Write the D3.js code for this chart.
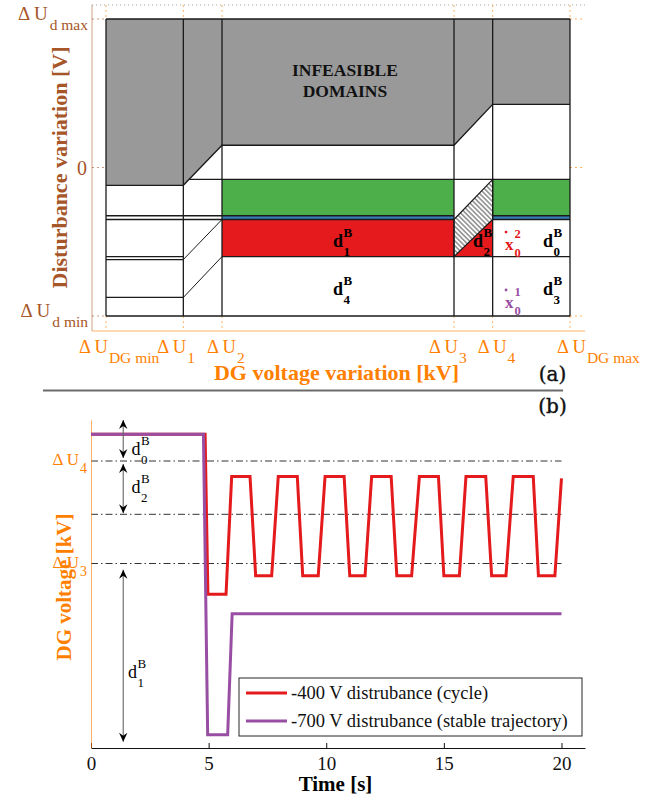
<!DOCTYPE html>
<html>
<head>
<meta charset="utf-8">
<script src="https://cdn.jsdelivr.net/npm/d3@7"></script>
<style>
body { margin: 0; background: #fff; }
svg text { font-family: "Liberation Serif", "Times New Roman", serif; }
</style>
</head>
<body>
<svg id="fig" width="667" height="800"></svg>
<script>
// ---- (a) partition of the state space (DG voltage in grid units, disturbance in V) ----
const dgEdges = [0, 2, 3, 9, 10, 12];
const dgEdgeSubs = ["DG min", "1", "2", "3", "4", "DG max"];
const distTicks = [1000, 0, -1000];
const distTickSubs = ["d max", null, "d min"];

const infeasibleEdge = [[0, -120], [2, -120], [3, 150], [9, 150], [10, 425], [12, 425]];
const bandCols = [[3, 9], [10, 12]];
const greenRange = [-325, -80];
const blueRange = [-350, -325];
const redRange = [-600, -350];
const redTriangle = [[9, -600], [10, -350], [10, -600]];
const hatchPoly = [[9, -350], [10, -80], [10, -350], [9, -600]];
const hLines = [
    [0, 2, -325], [0, 2, -350], [0, 2, -600], [0, 2, -620], [0, 2, -875],
    [2, 3, -325], [2, 3, -350],
    [2.15, 12, -80],
    [3, 9, -325], [3, 9, -350], [10, 12, -325], [10, 12, -350],
    [3, 12, -600]
];
const slantLines = [[2, -620, 3, -350], [2, -875, 3, -600]];
const regionLabels = [
    { sub: "1", x: 5.87, v: -535 }, { sub: "4", x: 5.87, v: -859 },
    { sub: "2", x: 9.49, v: -535 },
    { sub: "0", x: 11.30, v: -535 }, { sub: "3", x: 11.30, v: -859 }
];
const initStates = [
    { sup: "2", x: 10.32, v: -556, color: "#e41a1c" },
    { sup: "1", x: 10.32, v: -946, color: "#984ea3" }
];

// ---- (b) time response ----
const timeTicks = [0, 5, 10, 15, 20];
const cycleT = [0, 4.85, 4.97, 5.74, 5.98, 6.76, 7.00, 7.68, 7.96, 8.77, 9.00, 9.66,
    9.95, 10.76, 11.00, 11.65, 11.93, 12.76, 13.00, 13.63, 13.96, 14.77, 15.00, 15.66,
    15.94, 16.78, 17.03, 17.64, 17.95, 18.80, 19.02, 19.72, 20.00];
const cycleV = [10.26, 10.26, 8.70, 8.70, 9.85, 9.85, 8.88, 8.88, 9.85, 9.85, 8.88, 8.88,
    9.85, 9.85, 8.88, 8.88, 9.85, 9.85, 8.88, 8.88, 9.85, 9.85, 8.88, 8.88,
    9.85, 9.85, 8.88, 8.88, 9.85, 9.85, 8.88, 8.88, 9.83];
const stableT = [0, 4.78, 4.96, 5.81, 6.00, 20.00];
const stableV = [10.26, 10.26, 7.33, 7.33, 8.51, 8.51];
const levelLines = [10, 9.48, 9];
const levelTicks = [10, 9];
const levelSubs = ["4", "3"];
const bandArrows = [
    { sub: "0", from: 10.4, to: 10.03, labT: 1.72, labV: 10.06 },
    { sub: "2", from: 9.97, to: 9.49, labT: 1.72, labV: 9.69 },
    { sub: "1", from: 8.94, to: 7.26, labT: 1.57, labV: 7.88 }
];
const arrowT = 1.37;
const legendNames = ["-400 V distrubance (cycle)", "-700 V distrubance (stable trajectory)"];

const C = {
    gray: "#999999", green: "#4daf4a", blue: "#377eb8", red: "#e41a1c",
    purple: "#984ea3", orange: "#ff7f00", brown: "#a65628", ink: "#1a1a1a"
};

const svg = d3.select("#fig");
const defs = svg.append("defs");

// text with optional stacked sub/superscript
function tex(g, o) {
    const grp = g.append("g").attr("fill", o.color || "#000").attr("font-weight", o.weight || "normal");
    const b = grp.append("text").attr("y", o.y).attr("font-size", o.size).text(o.base);
    const bw = b.node().getComputedTextLength();
    const parts = [];
    let sw = 0;
    [["sup", -(o.supUp || 0)], ["sub", o.subDown || 0]].forEach(([k, dy]) => {
        if (!o[k]) return;
        const t = grp.append("text").attr("y", o.y + dy).attr("font-size", o.small).text(o[k]);
        sw = Math.max(sw, t.node().getComputedTextLength());
        parts.push(t);
    });
    const gap = o.gap || 0;
    const total = bw + (parts.length ? gap + sw : 0);
    const x0 = o.anchor === "end" ? o.x - total : o.anchor === "middle" ? o.x - total / 2 : o.x;
    b.attr("x", x0);
    parts.forEach(p => p.attr("x", x0 + bw + gap));
    return grp;
}

// ================= panel (a) =================
const xA = d3.scaleLinear().domain([0, 12]).range([106, 570]);
const yA = d3.scaleLinear().domain([-1000, 1000]).range([316, 19]);
const gA = svg.append("g");
const P = ([x, v]) => [xA(x), yA(v)];
const poly = pts => "M" + pts.map(p => P(p).join(",")).join("L") + "Z";

defs.append("pattern")
    .attr("id", "hatch")
    .attr("patternUnits", "userSpaceOnUse")
    .attr("width", 3.4).attr("height", 3.4)
    .attr("patternTransform", "rotate(45)")
    .call(p => {
        p.append("rect").attr("width", 3.4).attr("height", 3.4).attr("fill", "#fff");
        p.append("line").attr("x1", 0).attr("x2", 3.4).attr("y1", 1.7).attr("y2", 1.7)
            .attr("stroke", "#222").attr("stroke-width", 0.8);
    });

// axis frame (offset MATLAB-like axes)
const [ax0, ax1] = xA.range();
const [ay1, ay0] = yA.range();
const axL = ax0 - 14, axR = ax1 + 15, axT = ay0 - 14, axB = ay1 + 15;
gA.append("line").attr("x1", axL).attr("x2", axR).attr("y1", axT).attr("y2", axT)
    .attr("stroke", "#aaa").attr("stroke-dasharray", "1.2,2.8");
gA.append("line").attr("x1", axL).attr("x2", axL).attr("y1", axT).attr("y2", axB)
    .attr("stroke", C.brown).attr("stroke-opacity", 0.55);
gA.append("line").attr("x1", axL).attr("x2", axR).attr("y1", axB).attr("y2", axB)
    .attr("stroke", C.orange).attr("stroke-opacity", 0.6);
dgEdges.forEach(d => {
    [[axT, ay0], [ay1, axB]].forEach(([a, b]) => gA.append("line")
        .attr("x1", xA(d)).attr("x2", xA(d)).attr("y1", a).attr("y2", b)
        .attr("stroke", C.orange).attr("stroke-opacity", 0.6).attr("stroke-dasharray", "2,3"));
});
distTicks.forEach(v => {
    gA.append("line").attr("x1", axL).attr("x2", ax0).attr("y1", yA(v)).attr("y2", yA(v))
        .attr("stroke", C.brown).attr("stroke-opacity", 0.6).attr("stroke-dasharray", "2,3");
    gA.append("line").attr("x1", ax1).attr("x2", axR).attr("y1", yA(v)).attr("y2", yA(v))
        .attr("stroke", C.orange).attr("stroke-opacity", 0.6).attr("stroke-dasharray", "2,3");
});

// filled domains
gA.append("path").attr("d", poly([[0, 1000], ...infeasibleEdge, [12, 1000]])).attr("fill", C.gray);
bandCols.forEach(([a, b]) => {
    [[greenRange, C.green], [blueRange, C.blue]].forEach(([r, c]) => gA.append("rect")
        .attr("x", xA(a)).attr("width", xA(b) - xA(a))
        .attr("y", yA(r[1])).attr("height", yA(r[0]) - yA(r[1]))
        .attr("fill", c));
});
gA.append("rect")
    .attr("x", xA(bandCols[0][0])).attr("width", xA(bandCols[0][1]) - xA(bandCols[0][0]))
    .attr("y", yA(redRange[1])).attr("height", yA(redRange[0]) - yA(redRange[1]))
    .attr("fill", C.red);
gA.append("path").attr("d", poly(redTriangle)).attr("fill", C.red);
gA.append("path").attr("d", poly(hatchPoly)).attr("fill", "url(#hatch)")
    .attr("stroke", C.ink).attr("stroke-width", 1.2);

// boundaries
const ink = sel => sel.attr("stroke", C.ink).attr("stroke-width", 1.3).attr("fill", "none");
gA.append("path").attr("d", "M" + infeasibleEdge.map(p => P(p).join(",")).join("L")).call(ink);
hLines.forEach(([a, b, v]) => gA.append("line")
    .attr("x1", xA(a)).attr("x2", xA(b)).attr("y1", yA(v)).attr("y2", yA(v)).call(ink));
slantLines.forEach(([a, v0, b, v1]) => gA.append("line")
    .attr("x1", xA(a)).attr("x2", xA(b)).attr("y1", yA(v0)).attr("y2", yA(v1))
    .attr("stroke", C.ink).attr("stroke-width", 1));
dgEdges.forEach(d => gA.append("line")
    .attr("x1", xA(d)).attr("x2", xA(d)).attr("y1", yA(-1000)).attr("y2", yA(1000)).call(ink));
[-1000, 1000].forEach(v => gA.append("line")
    .attr("x1", xA(0)).attr("x2", xA(12)).attr("y1", yA(v)).attr("y2", yA(v)).call(ink));

// labels inside
const infX = xA(6.18);
gA.append("text").attr("x", infX).attr("y", yA(618)).attr("text-anchor", "middle")
    .attr("font-size", 17.5).attr("font-weight", "bold").attr("fill", "#111").text("INFEASIBLE");
gA.append("text").attr("x", infX).attr("y", yA(618) + 21).attr("text-anchor", "middle")
    .attr("font-size", 17.5).attr("font-weight", "bold").attr("fill", "#111").text("DOMAINS");

regionLabels.forEach(r => tex(gA, {
    x: xA(r.x), y: yA(r.v), base: "d", sup: "B", sub: r.sub,
    size: 18, small: 13, supUp: 10, subDown: 9, weight: "bold", color: "#000", gap: 0.5
}));
initStates.forEach(s => {
    const x = xA(s.x), y = yA(s.v);
    tex(gA, { x, y, base: "x", sup: s.sup, sub: "0", size: 17, small: 12.5,
        supUp: 12, subDown: 7, weight: "bold", color: s.color, gap: 1 });
    gA.append("circle").attr("cx", x + 1).attr("cy", y - 18).attr("r", 1.4).attr("fill", s.color);
});

// tick labels
const xLabelNudge = [-27, -26, -15, -25, -15, -13];
dgEdges.forEach((d, i) => tex(gA, {
    x: xA(d) + xLabelNudge[i], y: 353, base: "Δ U", sub: dgEdgeSubs[i],
    size: 18.5, small: 15.5, subDown: 10, color: C.orange, gap: 1
}));
distTicks.forEach((v, i) => {
    if (distTickSubs[i]) {
        tex(gA, { x: 88, y: yA(v) + 1, base: "Δ U", sub: distTickSubs[i], anchor: "end",
            size: 19, small: 15.5, subDown: 10, color: C.brown, gap: 2 });
    } else {
        gA.append("text").attr("x", 87).attr("y", yA(v) + 7).attr("text-anchor", "end")
            .attr("font-size", 20).attr("fill", C.brown).text("0");
    }
});

// axis titles
gA.append("text").attr("transform", "translate(67,167.5) rotate(-90)")
    .attr("text-anchor", "middle").attr("font-size", 22).attr("font-weight", "bold")
    .attr("fill", C.brown).text("Disturbance variation [V]");
gA.append("text").attr("x", 336.5).attr("y", 380).attr("text-anchor", "middle")
    .attr("font-size", 22).attr("font-weight", "bold").attr("fill", C.orange)
    .text("DG voltage variation [kV]");
svg.append("text").attr("x", 552.5).attr("y", 381).attr("text-anchor", "middle")
    .style("font-family", "'DejaVu Serif', serif").attr("font-size", 20)
    .attr("fill", "#111").attr("stroke", "#111").attr("stroke-width", 0.4).text("(a)");
svg.append("line").attr("x1", 43).attr("x2", 563).attr("y1", 390.5).attr("y2", 390.5)
    .attr("stroke", "#6b6b6b").attr("stroke-width", 2);
svg.append("text").attr("x", 552.5).attr("y", 413).attr("text-anchor", "middle")
    .style("font-family", "'DejaVu Serif', serif").attr("font-size", 20)
    .attr("fill", "#111").attr("stroke", "#111").attr("stroke-width", 0.4).text("(b)");

// ================= panel (b) =================
const xB = d3.scaleLinear().domain([0, 21]).range([91, 585]);
const yB = d3.scaleLinear().domain([7.2, 10.4]).range([748, 420]);
const gB = svg.append("g");

// dash-dot level lines
levelLines.forEach(v => gB.append("line")
    .attr("x1", xB(0)).attr("x2", xB(20)).attr("y1", yB(v)).attr("y2", yB(v))
    .attr("stroke", "#333").attr("stroke-width", 1).attr("stroke-dasharray", "7,3,1.5,3"));

// axes
const xAxisB = gB.append("g").attr("transform", `translate(0,${yB.range()[0]})`)
    .call(d3.axisBottom(xB).tickValues(timeTicks).tickSizeInner(-5).tickSizeOuter(0).tickPadding(9));
xAxisB.select(".domain").attr("stroke", "#111");
xAxisB.selectAll(".tick line").attr("stroke", "#111");
xAxisB.selectAll(".tick text").attr("font-size", 19).attr("fill", "#111")
    .style("font-family", "'Liberation Serif', serif");
const yAxisB = gB.append("g").attr("transform", `translate(${xB(0)},0)`)
    .call(d3.axisLeft(yB).tickValues([]).tickSizeOuter(0));
yAxisB.select(".domain").attr("stroke", C.orange).attr("stroke-opacity", 0.6);

levelTicks.forEach((v, i) => tex(gB, {
    x: 87, y: yB(v) + 4, base: "Δ U", sub: levelSubs[i], anchor: "end",
    size: 17, small: 14, subDown: 8, color: C.orange, gap: 1
}));

// responses
const lineB = d3.line().x(d => xB(d[0])).y(d => yB(d[1]));
gB.append("path").attr("d", lineB(d3.zip(cycleT, cycleV)))
    .attr("fill", "none").attr("stroke", C.red).attr("stroke-width", 3);
gB.append("path").attr("d", lineB(d3.zip(stableT, stableV)))
    .attr("fill", "none").attr("stroke", C.purple).attr("stroke-width", 3);

// band arrows
defs.append("marker")
    .attr("id", "head").attr("viewBox", "-10 -5 11 10")
    .attr("refX", 0).attr("refY", 0)
    .attr("markerWidth", 11).attr("markerHeight", 10)
    .attr("markerUnits", "userSpaceOnUse")
    .attr("orient", "auto-start-reverse")
    .append("path").attr("d", "M0,0L-9,-4.2L-6,0L-9,4.2Z").attr("fill", "#000");
bandArrows.forEach(a => {
    gB.append("line")
        .attr("x1", xB(arrowT)).attr("x2", xB(arrowT))
        .attr("y1", yB(a.from)).attr("y2", yB(a.to))
        .attr("stroke", "#666").attr("stroke-width", 1.1)
        .attr("marker-start", "url(#head)").attr("marker-end", "url(#head)");
    tex(gB, { x: xB(a.labT), y: yB(a.labV), base: "d", sup: "B", sub: a.sub,
        size: 18, small: 13, supUp: 10, subDown: 9, color: "#000", gap: 0.5 });
});

// legend
const leg = gB.append("g");
leg.append("rect").attr("x", 239).attr("y", 678).attr("width", 343).attr("height", 58)
    .attr("fill", "#fff").attr("stroke", "#262626").attr("stroke-width", 1);
[C.red, C.purple].forEach((c, i) => {
    const y = 693 + i * 28;
    leg.append("line").attr("x1", 246).attr("x2", 287).attr("y1", y).attr("y2", y)
        .attr("stroke", c).attr("stroke-width", 3);
    leg.append("text").attr("x", 291).attr("y", y + 6).attr("font-size", 18.5)
        .attr("fill", "#111").text(legendNames[i]);
});

// titles
gB.append("text").attr("x", 335.5).attr("y", 791).attr("text-anchor", "middle")
    .attr("font-size", 21).attr("font-weight", "bold").attr("fill", "#000").text("Time [s]");
gB.append("text").attr("transform", "translate(71,587) rotate(-90)")
    .attr("text-anchor", "middle").attr("font-size", 21).attr("font-weight", "bold")
    .attr("fill", C.orange).text("DG voltage [kV]");
</script>
</body>
</html>
